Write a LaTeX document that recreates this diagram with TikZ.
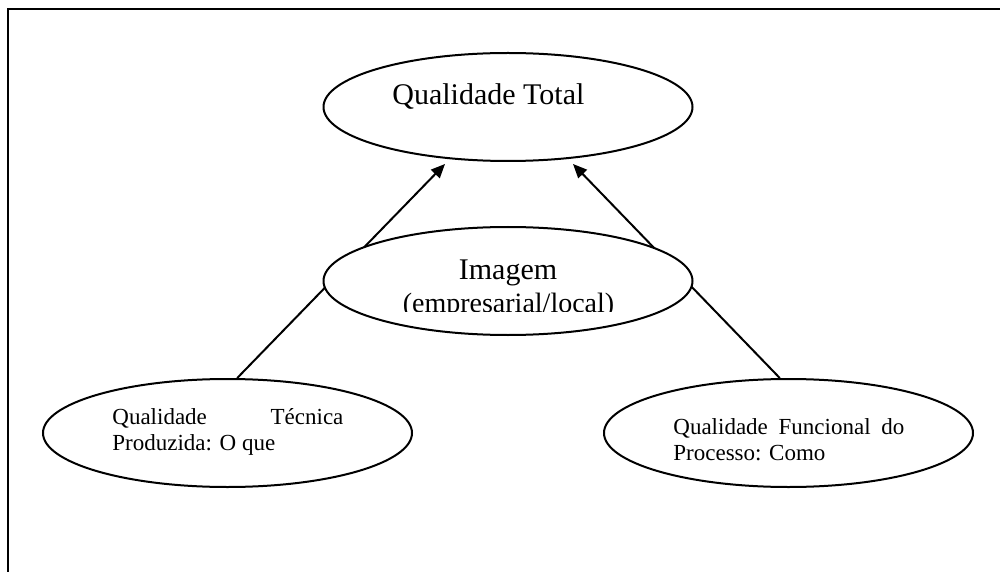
\documentclass[tikz,border=0pt]{standalone}
\usepackage{fontspec}
\setmainfont{Liberation Serif}
\usetikzlibrary{shapes.geometric,arrows.meta}
\begin{document}
\begin{tikzpicture}[x=0.5pt,y=-0.5pt,
  oval/.style={ellipse, draw, line width=1pt, fill=white, minimum width=184.5pt, minimum height=54pt, inner sep=0pt},
  link/.style={line width=1pt, -{Triangle[length=7pt,width=6pt]}},
  frameline/.style={line width=1pt},
  big/.style={font=\fontsize{15}{18}\selectfont, inner sep=0pt, anchor=base},
  small/.style={font=\fontsize{11.5}{13}\selectfont, inner sep=0pt, anchor=base west}]
\useasboundingbox (0,0) rectangle (1000,572);
% frame
\coordinate (fA) at (8,572);
\coordinate (fB) at (8,9.5);
\coordinate (fC) at (1000,9.5);
\draw[frameline] (fA) -- (fB) -- (fC);
% ellipses
\node[oval] (top) at (508,107) {};
\node[oval] (bl) at (227.5,433) {};
\node[oval] (br) at (788.5,433) {};
% connectors
\coordinate (tipL) at (445,164);
\coordinate (tipR) at (573,164);
\draw[link] (bl.80) -- (tipL);
\draw[link] (br.99) -- (tipR);
% middle ellipse covers the connectors
\node[oval] (mid) at (508,281) {};
% texts
\node[big, anchor=base west] (tTop) at (392,105) {Qualidade Total};
\node[big] (tImg) at (508,279) {Imagem};
\begin{scope}
\clip (320,250) rectangle (700,311.5);
\node[big, font=\fontsize{14}{17}\selectfont] (tEmp) at (508.5,312.5) {(empresarial/local)};
\end{scope}
\node[small] (tL) at (112,424) {\parbox[t]{115.5pt}{\makebox[\linewidth][s]{Qualidade Técnica}\\Produzida: O que}};
\node[small] (tR) at (673,434) {\parbox[t]{115.5pt}{\makebox[\linewidth][s]{Qualidade Funcional do}\\Processo: Como}};
\end{tikzpicture}
\end{document}
